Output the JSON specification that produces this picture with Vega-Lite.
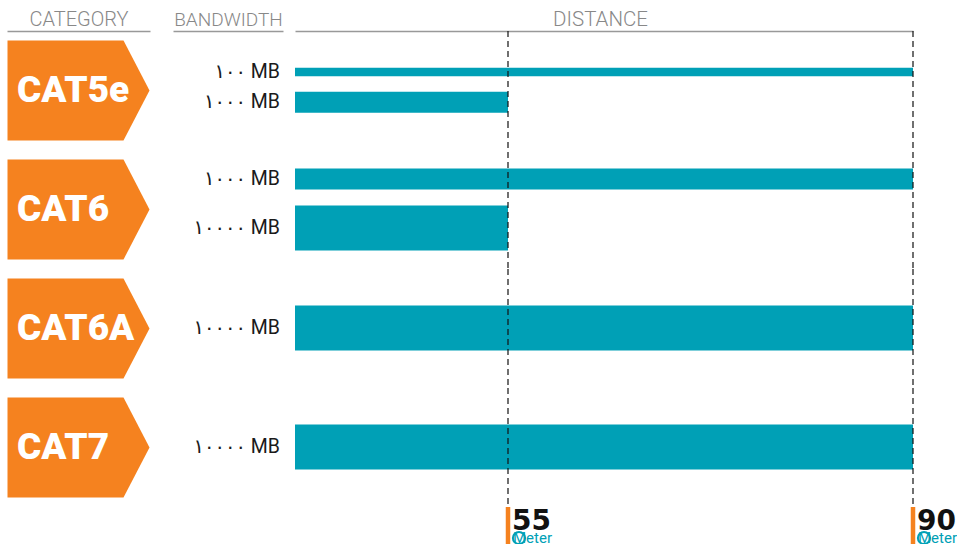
{
  "$schema": "https://vega.github.io/schema/vega-lite/v6.json",
  "padding": {"left": 7, "top": 9, "right": 0, "bottom": 0},
  "background": "white",
  "config": {"view": {"stroke": null}, "font": "Roboto, DejaVu Sans"},
  "datasets": {
    "rows": [
      {"cat": "CAT5e", "bw": "١٠٠ MB", "mbps": 100, "dist": 90},
      {"cat": "CAT5e", "bw": "١٠٠٠ MB", "mbps": 1000, "dist": 55},
      {"cat": "CAT6", "bw": "١٠٠٠ MB", "mbps": 1000, "dist": 90},
      {"cat": "CAT6", "bw": "١٠٠٠٠ MB", "mbps": 10000, "dist": 55},
      {"cat": "CAT6A", "bw": "١٠٠٠٠ MB", "mbps": 10000, "dist": 90},
      {"cat": "CAT7", "bw": "١٠٠٠٠ MB", "mbps": 10000, "dist": 90}
    ],
    "cats": [{"cat": "CAT5e"}, {"cat": "CAT6"}, {"cat": "CAT6A"}, {"cat": "CAT7"}],
    "marks": [{"dist": 55}, {"dist": 90}]
  },
  "spacing": 23,
  "hconcat": [
    {
      "data": {"name": "cats"},
      "width": 143,
      "height": 476,
      "encoding": {
        "y": {"field": "cat", "type": "nominal", "sort": null, "scale": {"type": "band", "paddingInner": 0, "paddingOuter": 0}, "axis": null},
        "x": {"datum": 0.5, "type": "quantitative", "scale": {"domain": [0, 1]}, "axis": {"orient": "top", "title": "CATEGORY", "labels": false, "ticks": false, "grid": false, "domain": true, "domainColor": "#999999", "domainWidth": 1.5, "titleFont": "Roboto", "titleFontWeight": 300, "titleFontSize": 20, "titleColor": "#888888", "titlePadding": 2}}
      },
      "layer": [
        {"mark": {"type": "point", "shape": "M-1,-0.704L0.634,-0.704L1,0L0.634,0.704L-1,0.704Z", "filled": true, "fill": "#F5821F", "opacity": 1, "size": 20164, "strokeWidth": 0}},
        {"mark": {"type": "text", "align": "left", "baseline": "middle", "dx": -61.5, "fontSize": 37, "fontWeight": 900, "font": "Roboto", "color": "#ffffff"}, "encoding": {"text": {"field": "cat"}}}
      ]
    },
    {
      "spacing": 12,
      "hconcat": [
        {
          "data": {"name": "rows"},
          "spacing": 0,
          "bounds": "flush",
          "vconcat": [
            {"width": 110, "height": 91,
             "transform": [{"filter": "datum.cat === 'CAT5e'"}],
             "mark": {"type": "text", "align": "right", "baseline": "middle", "dx": -3, "fontSize": 19.5, "font": "Roboto, DejaVu Sans", "color": "#1a1a1a"},
             "encoding": {
               "y": {"field": "bw", "type": "ordinal", "sort": null, "scale": {"type": "point", "padding": 1, "align": 0.676}, "axis": null},
               "x": {"datum": 1, "type": "quantitative", "scale": {"domain": [0, 1]}, "axis": {"orient": "top", "title": "BANDWIDTH", "labels": false, "ticks": false, "grid": false, "domain": true, "domainColor": "#999999", "domainWidth": 1.5, "titleFont": "Roboto", "titleFontWeight": 300, "titleFontSize": 19, "titleColor": "#888888", "titlePadding": 2}},
               "text": {"field": "bw"}
             }},
            {"width": 110, "height": 147,
             "transform": [{"filter": "datum.cat === 'CAT6'"}],
             "mark": {"type": "text", "align": "right", "baseline": "middle", "dx": -3, "fontSize": 19.5, "font": "Roboto, DejaVu Sans", "color": "#1a1a1a"},
             "encoding": {
               "y": {"field": "bw", "type": "ordinal", "sort": null, "scale": {"type": "point", "padding": 1, "align": 0.582}, "axis": null},
               "x": {"datum": 1, "type": "quantitative", "scale": {"domain": [0, 1]}, "axis": null},
               "text": {"field": "bw"}
             }},
            {"width": 110, "height": 119,
             "transform": [{"filter": "datum.cat === 'CAT6A'"}],
             "mark": {"type": "text", "align": "right", "baseline": "middle", "dx": -3, "fontSize": 19.5, "font": "Roboto, DejaVu Sans", "color": "#1a1a1a"},
             "encoding": {
               "y": {"field": "bw", "type": "ordinal", "sort": null, "scale": {"type": "point", "padding": 1, "align": 0.496}, "axis": null},
               "x": {"datum": 1, "type": "quantitative", "scale": {"domain": [0, 1]}, "axis": null},
               "text": {"field": "bw"}
             }},
            {"width": 110, "height": 119,
             "transform": [{"filter": "datum.cat === 'CAT7'"}],
             "mark": {"type": "text", "align": "right", "baseline": "middle", "dx": -3, "fontSize": 19.5, "font": "Roboto, DejaVu Sans", "color": "#1a1a1a"},
             "encoding": {
               "y": {"field": "bw", "type": "ordinal", "sort": null, "scale": {"type": "point", "padding": 1, "align": 0.496}, "axis": null},
               "x": {"datum": 1, "type": "quantitative", "scale": {"domain": [0, 1]}, "axis": null},
               "text": {"field": "bw"}
             }}
          ]
        },
        {
          "spacing": 0,
          "bounds": "flush",
          "vconcat": [
            {"width": 618, "height": 91,
             "data": {"name": "rows"},
             "transform": [{"filter": "datum.cat === 'CAT5e'"}],
             "encoding": {"x": {"field": "dist", "type": "quantitative", "scale": {"domain": [0, 55, 90], "range": [0, 213, 618]}, "axis": {"orient": "top", "title": "DISTANCE", "labels": false, "ticks": false, "grid": false, "domain": true, "domainColor": "#999999", "domainWidth": 1.5, "titleFont": "Roboto", "titleFontWeight": 300, "titleFontSize": 20.5, "titleColor": "#888888", "titlePadding": 2, "titleX": 305}}},
             "layer": [
               {"mark": {"type": "bar", "color": "#00A0B6"},
                "encoding": {
                  "y": {"field": "bw", "type": "ordinal", "sort": null, "scale": {"type": "point", "padding": 1, "align": 0.676}, "axis": null},
                  "size": {"field": "mbps", "type": "quantitative", "scale": {"domain": [100, 1000, 10000], "range": [8.5, 21, 45]}, "legend": null}
                }},
               {"data": {"name": "marks"}, "mark": {"type": "rule", "strokeDash": [6, 4], "color": "#111111", "strokeWidth": 1.2}, "encoding": {}}
             ]},
            {"width": 618, "height": 147,
             "data": {"name": "rows"},
             "transform": [{"filter": "datum.cat === 'CAT6'"}],
             "encoding": {"x": {"field": "dist", "type": "quantitative", "scale": {"domain": [0, 55, 90], "range": [0, 213, 618]}, "axis": null}},
             "layer": [
               {"mark": {"type": "bar", "color": "#00A0B6"},
                "encoding": {
                  "y": {"field": "bw", "type": "ordinal", "sort": null, "scale": {"type": "point", "padding": 1, "align": 0.582}, "axis": null},
                  "size": {"field": "mbps", "type": "quantitative", "scale": {"domain": [100, 1000, 10000], "range": [8.5, 21, 45]}, "legend": null}
                }},
               {"data": {"name": "marks"}, "mark": {"type": "rule", "strokeDash": [6, 4], "color": "#111111", "strokeWidth": 1.2}, "encoding": {}}
             ]},
            {"width": 618, "height": 119,
             "data": {"name": "rows"},
             "transform": [{"filter": "datum.cat === 'CAT6A'"}],
             "encoding": {"x": {"field": "dist", "type": "quantitative", "scale": {"domain": [0, 55, 90], "range": [0, 213, 618]}, "axis": null}},
             "layer": [
               {"mark": {"type": "bar", "color": "#00A0B6"},
                "encoding": {
                  "y": {"field": "bw", "type": "ordinal", "sort": null, "scale": {"type": "point", "padding": 1, "align": 0.496}, "axis": null},
                  "size": {"field": "mbps", "type": "quantitative", "scale": {"domain": [100, 1000, 10000], "range": [8.5, 21, 45]}, "legend": null}
                }},
               {"data": {"name": "marks"}, "mark": {"type": "rule", "strokeDash": [6, 4], "color": "#111111", "strokeWidth": 1.2}, "encoding": {}}
             ]},
            {"width": 618, "height": 119,
             "data": {"name": "rows"},
             "transform": [{"filter": "datum.cat === 'CAT7'"}],
             "encoding": {"x": {"field": "dist", "type": "quantitative", "scale": {"domain": [0, 55, 90], "range": [0, 213, 618]}, "axis": null}},
             "layer": [
               {"mark": {"type": "bar", "color": "#00A0B6"},
                "encoding": {
                  "y": {"field": "bw", "type": "ordinal", "sort": null, "scale": {"type": "point", "padding": 1, "align": 0.496}, "axis": null},
                  "size": {"field": "mbps", "type": "quantitative", "scale": {"domain": [100, 1000, 10000], "range": [8.5, 21, 45]}, "legend": null}
                }},
               {"data": {"name": "marks"}, "mark": {"type": "rule", "strokeDash": [6, 4], "color": "#111111", "strokeWidth": 1.2}, "encoding": {}}
             ]},
            {"width": 618, "height": 48,
             "data": {"name": "marks"},
             "encoding": {"x": {"field": "dist", "type": "quantitative", "scale": {"domain": [0, 55, 90], "range": [0, 213, 618]}, "axis": null}},
             "layer": [
               {"mark": {"type": "rule", "color": "#F5821F", "strokeWidth": 4.5}, "encoding": {}},
               {"mark": {"type": "text", "align": "left", "baseline": "middle", "dx": 4, "dy": -9, "fontSize": 28, "fontWeight": "bold", "font": "DejaVu Sans", "color": "#111111"}, "encoding": {"text": {"field": "dist"}}},
               {"mark": {"type": "point", "shape": "circle", "filled": false, "stroke": "#00A0B6", "strokeWidth": 2, "size": 150, "xOffset": 11, "yOffset": 7, "opacity": 1}, "encoding": {}},
               {"mark": {"type": "text", "align": "left", "baseline": "middle", "dx": 5, "dy": 7, "fontSize": 15, "font": "Roboto", "color": "#00A0B6"}, "encoding": {"text": {"value": "Meter"}}}
             ]}
          ]
        }
      ]
    }
  ]
}
